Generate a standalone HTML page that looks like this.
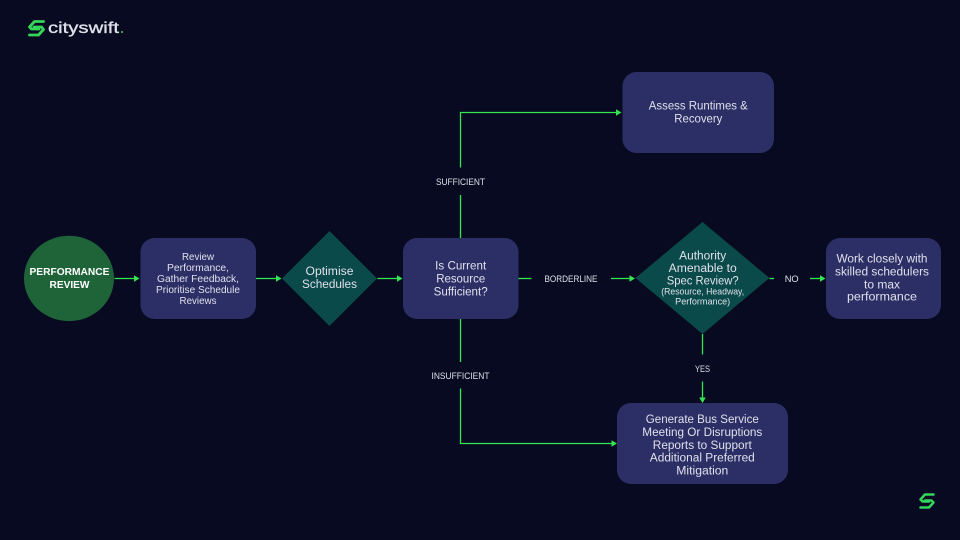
<!DOCTYPE html>
<html lang="en">
<head>
<meta charset="utf-8">
<title>Performance Review Flow</title>
<style>
html,body{margin:0;padding:0;background:#070a20;width:960px;height:540px;overflow:hidden}
svg{display:block}
text{font-family:"Liberation Sans",sans-serif;fill:#dfe0ea;text-anchor:middle}
.l{stroke:#34e653;stroke-width:1.3;fill:none}
.a{fill:#34e653}
.b{fill:#2c2f66}
.d{fill:#0a4a4a}
.i{fill:none;stroke:#34d65a;stroke-linejoin:round;stroke-linecap:round}
</style>
</head>
<body>
<svg width="960" height="540" viewBox="0 0 960 540" xmlns="http://www.w3.org/2000/svg">
<rect width="960" height="540" fill="#070a20"/>

<!-- logo -->
<path class="i" stroke-width="2.800" d="M43.500 21.500H34.500L29.500 27L31.500 29H39"/>
<path class="i" stroke-width="2.800" d="M29.500 35H38.500L43.500 29.500L41.500 27H34"/>
<text x="83.500" y="33" font-size="16" stroke="#e6e7ee" stroke-width="0.300" textLength="71" lengthAdjust="spacingAndGlyphs">cityswift</text>
<circle cx="122" cy="32" r="1" fill="#34d65a"/>

<!-- corner logo -->
<path class="i" stroke-width="2.500" d="M933.500 494.500H925L920.500 499.500L922.500 501.500H929"/>
<path class="i" stroke-width="2.500" d="M920.500 507.500H929L933.500 502.500L931.500 500.500H925"/>

<!-- connectors -->
<path class="l" d="M114.500 278.500H135"/><path class="a" d="M139.500 278.500L134 275.200V281.800Z"/>
<path class="l" d="M256 278.500H277"/><path class="a" d="M281.500 278.500L276 275.200V281.800Z"/>
<path class="l" d="M377.500 278.500H398"/><path class="a" d="M402.500 278.500L397 275.200V281.800Z"/>
<path class="l" d="M518.500 278.500H531.500"/>
<path class="l" d="M611 278.500H630"/><path class="a" d="M635 278.500L629.500 275.200V281.800Z"/>
<path class="l" d="M769.500 278.500H774"/>
<path class="l" d="M810 278.500H821"/><path class="a" d="M825.500 278.500L820 275.200V281.800Z"/>
<path class="l" d="M460.500 238V195"/>
<path class="l" d="M460.500 167.500V112.500H617"/><path class="a" d="M621.500 112.500L616 109.200V115.800Z"/>
<path class="l" d="M460.500 319V362"/>
<path class="l" d="M460.500 388.500V443.500H612"/><path class="a" d="M617 443.500L611.500 440.200V446.800Z"/>
<path class="l" d="M702.500 334V354.500"/>
<path class="l" d="M702.500 381.500V398"/><path class="a" d="M702.500 403L699.200 397.500H705.800Z"/>

<!-- nodes -->
<ellipse cx="69" cy="278.400" rx="45" ry="42.700" fill="#1f6338"/>
<rect class="b" x="140.500" y="238" width="115.500" height="81" rx="14"/>
<polygon class="d" points="329.500,231 377,278.500 329.500,326 282,278.500"/>
<rect class="b" x="403" y="238" width="115.500" height="81" rx="14"/>
<polygon class="d" points="702.500,222 769.500,278 702.500,334 635.500,278"/>
<rect class="b" x="826" y="238" width="115" height="81" rx="14"/>
<rect class="b" x="622.500" y="72" width="151.500" height="81" rx="14"/>
<rect class="b" x="617" y="403" width="171" height="81" rx="14"/>

<!-- circle text -->
<text x="69.500" y="275" font-size="10.500" font-weight="700" style="fill:#fff" textLength="80" lengthAdjust="spacingAndGlyphs">PERFORMANCE</text>
<text x="69.500" y="288" font-size="10.500" font-weight="700" style="fill:#fff" textLength="40" lengthAdjust="spacingAndGlyphs">REVIEW</text>

<!-- box 1 text -->
<text x="198" y="260" font-size="10" textLength="32" lengthAdjust="spacingAndGlyphs">Review</text>
<text x="198" y="271" font-size="10" textLength="62" lengthAdjust="spacingAndGlyphs">Performance,</text>
<text x="198" y="282" font-size="10" textLength="82" lengthAdjust="spacingAndGlyphs">Gather Feedback,</text>
<text x="198" y="293" font-size="10" textLength="84" lengthAdjust="spacingAndGlyphs">Prioritise Schedule</text>
<text x="198" y="304" font-size="10" textLength="37" lengthAdjust="spacingAndGlyphs">Reviews</text>

<!-- diamond 1 -->
<text x="329.500" y="275" font-size="11.500" textLength="48" lengthAdjust="spacingAndGlyphs">Optimise</text>
<text x="329.500" y="288" font-size="11.500" textLength="55" lengthAdjust="spacingAndGlyphs">Schedules</text>

<!-- box 2 -->
<text x="460.700" y="269.700" font-size="11.500" textLength="51" lengthAdjust="spacingAndGlyphs">Is Current</text>
<text x="460.700" y="282.700" font-size="11.500" textLength="49" lengthAdjust="spacingAndGlyphs">Resource</text>
<text x="460.700" y="295.300" font-size="11.500" textLength="54" lengthAdjust="spacingAndGlyphs">Sufficient?</text>

<!-- edge labels -->
<text x="571" y="282" font-size="9.500" textLength="53" lengthAdjust="spacingAndGlyphs">BORDERLINE</text>
<text x="791.700" y="281.800" font-size="9.500" textLength="14" lengthAdjust="spacingAndGlyphs">NO</text>
<text x="702.500" y="372" font-size="9.500" textLength="15" lengthAdjust="spacingAndGlyphs">YES</text>
<text x="460.500" y="185" font-size="9.500" textLength="49" lengthAdjust="spacingAndGlyphs">SUFFICIENT</text>
<text x="460.500" y="379" font-size="9.500" textLength="58" lengthAdjust="spacingAndGlyphs">INSUFFICIENT</text>

<!-- diamond 2 -->
<text x="702.700" y="259.300" font-size="11.500" textLength="47" lengthAdjust="spacingAndGlyphs">Authority</text>
<text x="702.700" y="272" font-size="11.500" textLength="68" lengthAdjust="spacingAndGlyphs">Amenable to</text>
<text x="702.700" y="284.700" font-size="11.500" textLength="72" lengthAdjust="spacingAndGlyphs">Spec Review?</text>
<text x="702.700" y="294.700" font-size="9" textLength="83" lengthAdjust="spacingAndGlyphs">(Resource, Headway,</text>
<text x="702.700" y="304.300" font-size="9" textLength="55" lengthAdjust="spacingAndGlyphs">Performance)</text>

<!-- right box -->
<text x="882" y="262.700" font-size="11.500" textLength="91" lengthAdjust="spacingAndGlyphs">Work closely with</text>
<text x="882" y="275.300" font-size="11.500" textLength="94" lengthAdjust="spacingAndGlyphs">skilled schedulers</text>
<text x="882" y="288.300" font-size="11.500" textLength="36" lengthAdjust="spacingAndGlyphs">to max</text>
<text x="882" y="300.500" font-size="11.500" textLength="70" lengthAdjust="spacingAndGlyphs">performance</text>

<!-- top box -->
<text x="698.300" y="109.700" font-size="11.500" textLength="99" lengthAdjust="spacingAndGlyphs">Assess Runtimes &amp;</text>
<text x="698.300" y="122.700" font-size="11.500" textLength="48" lengthAdjust="spacingAndGlyphs">Recovery</text>

<!-- bottom box -->
<text x="702.300" y="423" font-size="11.500" textLength="113" lengthAdjust="spacingAndGlyphs">Generate Bus Service</text>
<text x="702.300" y="436" font-size="11.500" textLength="120" lengthAdjust="spacingAndGlyphs">Meeting Or Disruptions</text>
<text x="702.300" y="449" font-size="11.500" textLength="99" lengthAdjust="spacingAndGlyphs">Reports to Support</text>
<text x="702.300" y="461.700" font-size="11.500" textLength="105" lengthAdjust="spacingAndGlyphs">Additional Preferred</text>
<text x="702.300" y="474.300" font-size="11.500" textLength="52" lengthAdjust="spacingAndGlyphs">Mitigation</text>
</svg>
</body>
</html>
